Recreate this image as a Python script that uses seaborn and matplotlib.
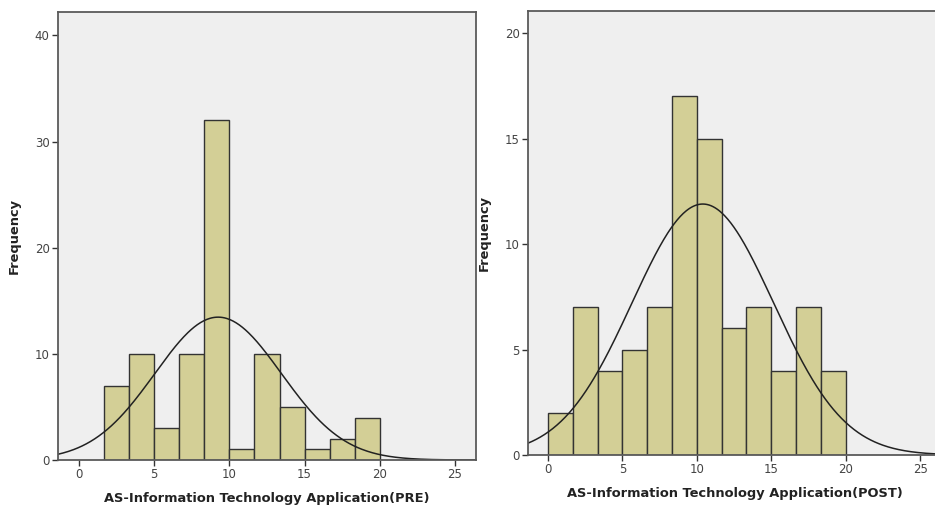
import numpy as np
import pandas as pd
import matplotlib
matplotlib.use("Agg")
import matplotlib.pyplot as plt
import seaborn as sns

# ---- data ----
bin_width = 5 / 3
pre_first_edge = 5 / 3
pre_counts = [7, 10, 3, 10, 32, 1, 10, 5, 1, 2, 4]
post_first_edge = 0.0
post_counts = [2, 7, 4, 5, 7, 17, 15, 6, 7, 4, 7, 4]
pre_mean, pre_sd = 9.25, 4.2
post_mean, post_sd = 10.4, 4.75
x_ticks = [0, 5, 10, 15, 20, 25]
pre_y_ticks = [0, 10, 20, 30, 40]
post_y_ticks = [0, 5, 10, 15, 20]
pre_xlabel = "AS-Information Technology Application(PRE)"
post_xlabel = "AS-Information Technology Application(POST)"
ylabel = "Frequency"

sns.set_theme(style="white")
plt.rcParams['font.family'] = ['DejaVu Sans']

BAR = "#D3CF96"
FACE = "#EFEFEF"
SPINE = "#5a5a5a"

W, H = 935, 508
fig = plt.figure(figsize=(W / 100, H / 100), dpi=100)
fig.patch.set_facecolor("white")


def px_axes(l, t, r, b):
    return fig.add_axes([l / W, (H - b) / H, (r - l) / W, (b - t) / H])


def draw(ax, first_edge, counts, mean, sd, yticks, xlabel, xlim, ylim):
    n = len(counts)
    edges = [float(first_edge + bin_width * i) for i in range(n + 1)]
    centers = [(edges[i] + edges[i + 1]) / 2 for i in range(n)]
    df = pd.DataFrame({"x": centers, "w": counts})
    sns.histplot(data=df, x="x", weights="w", bins=edges, ax=ax,
                 color=BAR, edgecolor="#333333", linewidth=1.0, alpha=1.0)
    total = sum(counts)
    xs = np.linspace(xlim[0], xlim[1], 400)
    ys = total * bin_width / (sd * np.sqrt(2 * np.pi)) * np.exp(-0.5 * ((xs - mean) / sd) ** 2)
    sns.lineplot(x=xs, y=ys, ax=ax, color="#222222", linewidth=1.1)
    ax.set_facecolor(FACE)
    ax.set_xlim(*xlim)
    ax.set_ylim(*ylim)
    ax.set_xticks(x_ticks)
    ax.set_yticks(yticks)
    for s in ax.spines.values():
        s.set_color(SPINE)
        s.set_linewidth(1.3)
        s.set_visible(True)
    ax.tick_params(axis="both", which="both", direction="out", length=4, width=1,
                   color="#333333", labelsize=8.5, labelcolor="#444444",
                   bottom=True, left=True, top=False, right=False, pad=2)
    ax.set_xlabel(xlabel, fontsize=9.4, fontweight="bold", color="#222222", labelpad=8)
    ax.set_ylabel(ylabel, fontsize=9.4, fontweight="bold", color="#222222", labelpad=10)
    ax.grid(False)


ax1 = px_axes(58, 12, 476, 460)
draw(ax1, pre_first_edge, pre_counts, pre_mean, pre_sd, pre_y_ticks,
     pre_xlabel, (-1.4, 26.4), (0, 42.2))

ax2 = px_axes(528, 11, 941, 455)
draw(ax2, post_first_edge, post_counts, post_mean, post_sd, post_y_ticks,
     post_xlabel, (-1.34, 26.4), (0, 21.05))

fig.savefig("out.png", dpi=100)
